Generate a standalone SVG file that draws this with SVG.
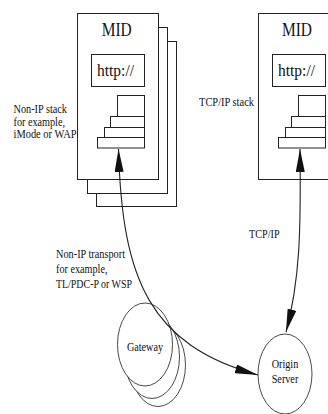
<svg xmlns="http://www.w3.org/2000/svg" width="328" height="414" viewBox="0 0 328 414">
<style>
  .box { fill: #fff; stroke: #222; stroke-width: 1; }
  .ell { fill: #fff; stroke: #333; stroke-width: 0.9; }
  .conn { fill: none; stroke: #222; stroke-width: 1.1; }
</style>
<defs>
  <marker id="arr" markerUnits="userSpaceOnUse" markerWidth="24" markerHeight="10" refX="23" refY="4.5" orient="auto-start-reverse">
    <path d="M0,0 L23,4.5 L0,9 Z" fill="#111"/>
  </marker>
</defs>
<rect width="328" height="414" fill="#fff"/>

<g id="mid-left">
  <rect class="box" x="96.5" y="41.5" width="80" height="165"/>
  <rect class="box" x="87.5" y="27.5" width="80" height="166"/>
  <rect class="box" x="77.5" y="13.5" width="81" height="166"/>
  <text font-family="Liberation Serif" font-size="18" fill="#111" x="101.7" y="36" textLength="30" lengthAdjust="spacingAndGlyphs">MID</text>
  <rect class="box" x="91.5" y="54.5" width="53" height="32"/>
  <text font-family="Liberation Serif" font-size="16" fill="#111" x="97" y="76" textLength="37" lengthAdjust="spacingAndGlyphs">http://</text>
  <rect class="box" x="117.5" y="95.5" width="27" height="21"/>
  <rect class="box" x="110.5" y="116.5" width="34" height="11"/>
  <rect class="box" x="104.5" y="127.5" width="40" height="10"/>
  <rect class="box" x="97.5" y="137.5" width="47" height="10.5"/>
</g>

<g id="mid-right">
  <rect class="box" x="258.5" y="13.5" width="81" height="166"/>
  <text font-family="Liberation Serif" font-size="18" fill="#111" x="282" y="36" textLength="30" lengthAdjust="spacingAndGlyphs">MID</text>
  <rect class="box" x="272.5" y="54.5" width="53" height="32"/>
  <text font-family="Liberation Serif" font-size="16" fill="#111" x="278" y="76" textLength="37" lengthAdjust="spacingAndGlyphs">http://</text>
  <rect class="box" x="298.5" y="95.5" width="27" height="21"/>
  <rect class="box" x="291.5" y="116.5" width="34" height="11"/>
  <rect class="box" x="285.5" y="127.5" width="40" height="10"/>
  <rect class="box" x="278.5" y="137.5" width="47" height="10.5"/>
</g>

<g id="gateway">
  <ellipse class="ell" cx="158" cy="365" rx="27.5" ry="41.5"/>
  <ellipse class="ell" cx="152" cy="357" rx="27.5" ry="41.5"/>
  <ellipse class="ell" cx="145" cy="344.5" rx="27.5" ry="41.5"/>
  <text font-family="Liberation Serif" font-size="12" fill="#111" x="145" y="351" text-anchor="middle" textLength="36" lengthAdjust="spacingAndGlyphs">Gateway</text>
</g>

<g id="origin-server">
  <ellipse class="ell" cx="285" cy="374" rx="27" ry="40"/>
  <text font-family="Liberation Serif" font-size="12" fill="#111" x="285" y="368" text-anchor="middle" textLength="26.6" lengthAdjust="spacingAndGlyphs">Origin</text>
  <text font-family="Liberation Serif" font-size="12" fill="#111" x="285" y="383" text-anchor="middle" textLength="26.6" lengthAdjust="spacingAndGlyphs">Server</text>
</g>

<g id="labels" font-family="Liberation Serif" font-size="12" fill="#111">
  <text font-family="Liberation Serif" x="13.5" y="113" textLength="53.5" lengthAdjust="spacingAndGlyphs">Non-IP stack</text>
  <text font-family="Liberation Serif" x="13.5" y="125.5" textLength="51.5" lengthAdjust="spacingAndGlyphs">for example,</text>
  <text font-family="Liberation Serif" x="13.5" y="138" textLength="63" lengthAdjust="spacingAndGlyphs">iMode or WAP</text>
  <text font-family="Liberation Serif" x="199" y="106" textLength="55" lengthAdjust="spacingAndGlyphs">TCP/IP stack</text>
  <text font-family="Liberation Serif" x="249" y="238" textLength="30.6" lengthAdjust="spacingAndGlyphs">TCP/IP</text>
  <text font-family="Liberation Serif" x="56" y="258" textLength="69" lengthAdjust="spacingAndGlyphs">Non-IP transport</text>
  <text font-family="Liberation Serif" x="56" y="273" textLength="51.5" lengthAdjust="spacingAndGlyphs">for example,</text>
  <text font-family="Liberation Serif" x="56" y="288" textLength="76" lengthAdjust="spacingAndGlyphs">TL/PDC-P or WSP</text>
</g>

<g id="connectors">
  <path class="conn" d="M118.5,149 C122,280 150,345 258,375" marker-start="url(#arr)" marker-end="url(#arr)"/>
  <path class="conn" d="M300,149 C301,230 300,280 286,332" marker-start="url(#arr)" marker-end="url(#arr)"/>
</g>
</svg>
